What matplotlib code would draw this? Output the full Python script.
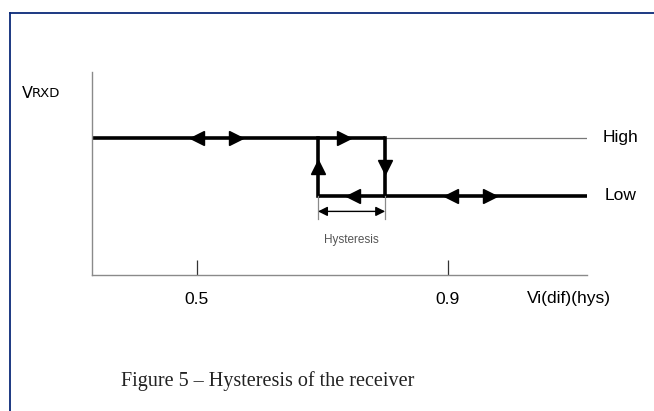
import matplotlib
matplotlib.use("Agg")
import matplotlib.pyplot as plt
from matplotlib.lines import Line2D

# input differential voltage (V) and output levels (Low = 0, High = 1)
x_lim = [0.333, 1.1215]
x_ticks = [0.5, 0.9]
tick_labels = ["0.5", "0.9"]
th_rise = 0.80     # Low -> High threshold seen on the way up
th_fall = 0.693    # High -> Low threshold seen on the way down

# thick trace: High level from start to th_rise, Low from th_fall to end
high_x = [x_lim[0], th_rise]
low_x = [th_fall, x_lim[1]]
high_lvl, low_lvl = 1, 0

# arrow heads along the trace
high_left = [0.5]
high_right = [0.5616, 0.7352]
low_left = [0.748, 0.9048]
low_right = [0.9672]
mid_lvl = 0.5

fig = plt.figure(figsize=(6.54, 4.11), dpi=100)
ax = fig.add_axes([92 / 654, (411 - 275) / 411, (587 - 92) / 654, (275 - 72) / 411])
ax.set_xlim(x_lim)
ax.set_ylim(-1.365, 2.13)

for s in ["top", "right"]:
    ax.spines[s].set_visible(False)
for s in ["left", "bottom"]:
    ax.spines[s].set_color("#8a8a8a")
    ax.spines[s].set_linewidth(1.0)

ax.set_xticks(x_ticks)
ax.set_xticklabels(tick_labels, fontfamily="Liberation Sans", fontsize=12.5)
ax.tick_params(axis="x", direction="in", length=11, width=0.9, color="#333333", pad=12)
ax.set_yticks([])

lw = 2.6
ax.plot(high_x, [high_lvl, high_lvl], color="black", lw=lw, solid_capstyle="butt")
ax.plot([th_rise, x_lim[1]], [high_lvl, high_lvl], color="#777777", lw=0.9)
ax.plot(low_x, [low_lvl, low_lvl], color="black", lw=lw, solid_capstyle="butt")
ax.plot([th_fall, th_fall], [low_lvl, high_lvl], color="black", lw=lw, solid_capstyle="projecting")
ax.plot([th_rise, th_rise], [low_lvl, high_lvl], color="black", lw=lw, solid_capstyle="projecting")

ms = 9.5
ax.plot(high_left, [high_lvl] * len(high_left), "<", color="black", ms=ms, ls="none")
ax.plot(high_right, [high_lvl] * len(high_right), ">", color="black", ms=ms, ls="none")
ax.plot(low_left, [low_lvl] * len(low_left), "<", color="black", ms=ms, ls="none")
ax.plot(low_right, [low_lvl] * len(low_right), ">", color="black", ms=ms, ls="none")
ax.plot([th_fall], [mid_lvl], "^", color="black", ms=ms, ls="none")
ax.plot([th_rise], [mid_lvl], "v", color="black", ms=ms, ls="none")

# hysteresis width marker
for xv in [th_fall, th_rise]:
    ax.plot([xv, xv], [low_lvl, -0.4], color="#8a8a8a", lw=0.9)
ax.annotate("", xy=(th_rise, -0.27), xytext=(th_fall, -0.27),
            arrowprops=dict(arrowstyle="<|-|>", color="black", lw=1.0,
                            mutation_scale=14, shrinkA=0, shrinkB=0))
ax.text((th_fall + th_rise) / 2, -0.76, "Hysteresis", ha="center", va="center",
        fontfamily="Liberation Sans", fontsize=8.5, color="#555555")

# level labels
ax.text(1.1215 + 16 / 627.5, high_lvl, "High", ha="left", va="center",
        fontfamily="Liberation Sans", fontsize=12.5, clip_on=False)
ax.text(1.1215 + 18 / 627.5, low_lvl, "Low", ha="left", va="center",
        fontfamily="Liberation Sans", fontsize=12.5, clip_on=False)

# figure-level texts and frame
fig.text(527 / 654, 1 - 298 / 411, "Vi(dif)(hys)", ha="left", va="center",
         fontfamily="Liberation Sans", fontsize=12.5)
fig.text(22 / 654, 1 - 93 / 411, "V", ha="left", va="center",
         fontfamily="DejaVu Sans", fontsize=11.5)
fig.text(32 / 654, 1 - 93.5 / 411, "RXD", ha="left", va="center",
         fontfamily="DejaVu Sans", fontsize=9.5)
fig.text(268 / 654, 1 - 381 / 411, "Figure 5 \u2013 Hysteresis of the receiver",
         ha="center", va="center", fontfamily="Liberation Serif", fontsize=14.5,
         color="#222222")

fig.add_artist(Line2D([10 / 654, 1.0], [1 - 13 / 411, 1 - 13 / 411],
                      transform=fig.transFigure, color="#0b2a78", lw=1.3))
fig.add_artist(Line2D([10 / 654, 10 / 654], [0.0, 1 - 13 / 411],
                      transform=fig.transFigure, color="#0b2a78", lw=1.3))

fig.savefig("out.png", dpi=100)
